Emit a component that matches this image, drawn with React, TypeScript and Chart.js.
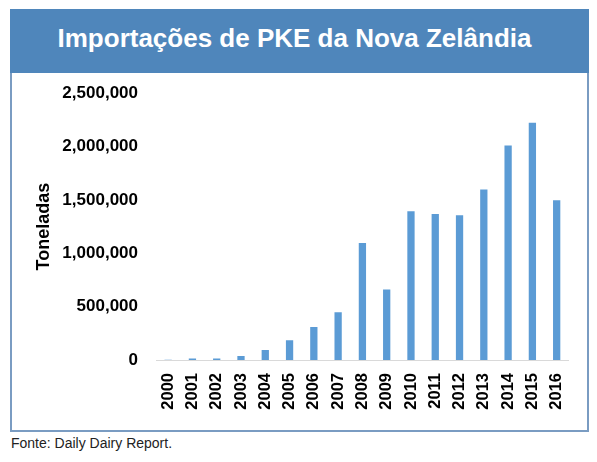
import React, { useRef, useEffect } from 'react';
import { Chart, registerables } from 'chart.js';

Chart.register(...registerables);

const years = ['2000', '2001', '2002', '2003', '2004', '2005', '2006', '2007', '2008',
  '2009', '2010', '2011', '2012', '2013', '2014', '2015', '2016'];
const tonnes = [2000, 15000, 15000, 38000, 94000, 184000, 310000, 447000, 1096000,
  661000, 1394000, 1368000, 1356000, 1598000, 2011000, 2224000, 1497000];
const yTicks = [0, 500000, 1000000, 1500000, 2000000, 2500000];

const FONT = '"Liberation Sans", Arial, sans-serif';

const App: React.FC = () => {
  const chartRef = useRef<HTMLCanvasElement>(null);
  const chartInstance = useRef<Chart | null>(null);

  useEffect(() => {
    if (!chartRef.current) return;
    const ctx = chartRef.current.getContext('2d');
    if (!ctx) return;

    chartInstance.current = new Chart(ctx, {
      type: 'bar',
      data: {
        labels: years,
        datasets: [
          {
            label: 'Toneladas',
            data: tonnes,
            backgroundColor: '#5b9bd5',
            barPercentage: 0.3,
            categoryPercentage: 1,
          },
        ],
      },
      options: {
        animation: false,
        responsive: false,
        maintainAspectRatio: false,
        // top and right come from the scales' own label padding
        layout: { padding: { top: 0, right: 18, bottom: 0, left: 0 } },
        plugins: {
          legend: { display: false },
          tooltip: { enabled: false },
        },
        scales: {
          x: {
            grid: { display: false, drawTicks: false },
            border: { display: true, color: '#d9d9d9', width: 1 },
            ticks: {
              color: '#000',
              font: { family: FONT, size: 16.5, weight: 'bold' },
              maxRotation: 90,
              minRotation: 90,
              padding: 13,
            },
            afterFit: (scale) => {
              scale.height = 71;
            },
          },
          y: {
            min: 0,
            max: yTicks[yTicks.length - 1],
            grid: { display: false, drawTicks: false },
            border: { display: false },
            afterBuildTicks: (scale) => {
              scale.ticks = yTicks.map((v) => ({ value: v }));
            },
            ticks: {
              color: '#000',
              font: { family: FONT, size: 17, weight: 'bold' },
              padding: 18,
              callback: (v) => Number(v).toLocaleString('en-US'),
            },
            title: {
              display: true,
              text: 'Toneladas',
              color: '#000',
              font: { family: FONT, size: 18, weight: 'bold' },
              padding: { top: 21, bottom: 0 },
            },
            afterFit: (scale) => {
              scale.width = 144;
            },
          },
        },
      },
    });

    return () => {
      if (chartInstance.current) {
        chartInstance.current.destroy();
        chartInstance.current = null;
      }
    };
  }, []);

  return (
    <div style={{ position: 'absolute', left: 0, top: 0, width: 597, height: 462, background: '#fff', fontFamily: FONT }}>
      <div
        style={{
          position: 'absolute',
          left: 10,
          top: 9,
          width: 579,
          height: 423,
          border: '2px solid #7a9cc2',
          boxSizing: 'border-box',
        }}
      />
      <div style={{ position: 'absolute', left: 10, top: 9, width: 579, height: 64, background: '#4f86bb' }} />
      <div
        style={{
          position: 'absolute',
          left: 10,
          top: 25,
          width: 569,
          textAlign: 'center',
          color: '#fff',
          fontWeight: 'bold',
          fontSize: 26,
          lineHeight: 1,
          whiteSpace: 'nowrap',
        }}
      >
        Importações de PKE da Nova Zelândia
      </div>
      <canvas
        ref={chartRef}
        width={578}
        height={366}
        style={{ position: 'absolute', left: 12, top: 65, width: 578, height: 366 }}
      />
      <div style={{ position: 'absolute', left: 11, top: 436, fontSize: 14, lineHeight: 1, color: '#222' }}>
        Fonte: Daily Dairy Report.
      </div>
    </div>
  );
};

export default App;
